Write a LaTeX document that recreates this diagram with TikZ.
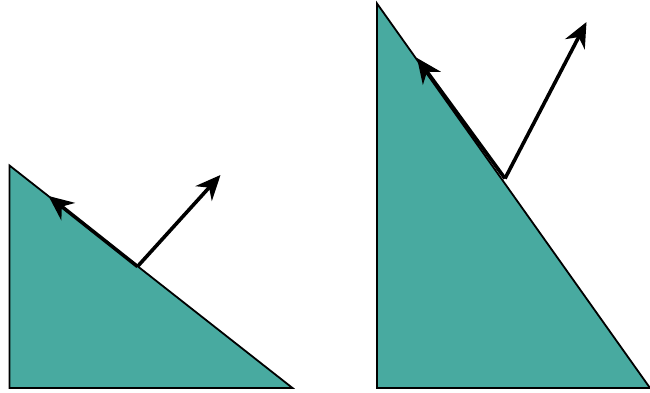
\documentclass[tikz,border=0pt]{standalone}
\usetikzlibrary{arrows.meta}
\definecolor{tealfill}{RGB}{72,170,160}
\tikzset{
  tri/.style={fill=tealfill, draw=black, line width=1.8pt, line join=miter},
  vec/.style={draw=black, line width=3.6pt, -{Stealth[length=25pt, width=22pt, inset=8pt]}}
}
\begin{document}
\begin{tikzpicture}[x=1pt, y=-1pt]
\useasboundingbox (0,0) rectangle (650,393);
% left triangle
\coordinate (LA) at (9.5,165.5);
\coordinate (LB) at (9.5,388);
\coordinate (LC) at (292.5,388);
\coordinate (LP) at (137.5,266.5);
\coordinate (LN) at (220.5,175);
\coordinate (LT) at (48.5,196);
\draw[tri] (LA) -- (LB) -- (LC) -- cycle;
\draw[vec] (LP) -- (LN);
\draw[vec] (LP) -- (LT);
% right triangle
\coordinate (RA) at (377,3.5);
\coordinate (RB) at (377,388);
\coordinate (RC) at (650,388);
\coordinate (RP) at (505,178.5);
\coordinate (RN) at (586.5,22);
\coordinate (RT) at (417,58);
\draw[tri] (RA) -- (RB) -- (RC) -- cycle;
\draw[vec] (RP) -- (RN);
\draw[vec] (RP) -- (RT);
\end{tikzpicture}
\end{document}
